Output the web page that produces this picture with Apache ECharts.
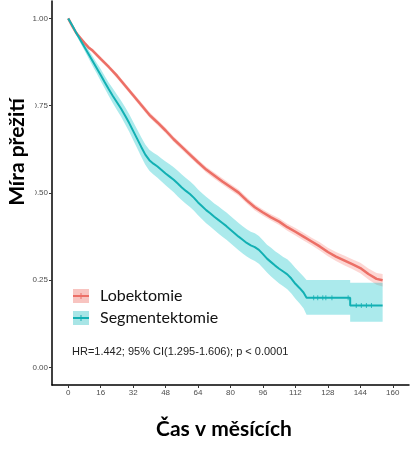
<!DOCTYPE html>
<html><head><meta charset="utf-8">
<script src="https://cdn.jsdelivr.net/npm/echarts@6/dist/echarts.min.js"></script>
<style>html,body{margin:0;padding:0;background:#fff}#c{width:410px;height:450px}</style>
</head><body><div id="c"></div>
<script>
var xTicks = [0,16,32,48,64,80,96,112,128,144,160];
var yTicks = [0,0.25,0.5,0.75,1];
var seriesNames = ['Lobektomie','Segmentektomie'];

var redT  = [0,2,4,6,8,10,12,16,20,24,28,32,36,40,44,48,52,56,60,64,68,72,76,80,84,88,92,96,100,104,108,112,116,120,124,128,132,136,140,144,148,152,155];
var redS  = [1.000,0.978,0.958,0.944,0.930,0.917,0.908,0.884,0.861,0.836,0.808,0.780,0.752,0.724,0.702,0.679,0.654,0.632,0.610,0.588,0.567,0.550,0.533,0.517,0.501,0.479,0.459,0.444,0.430,0.418,0.402,0.389,0.375,0.361,0.347,0.331,0.318,0.307,0.296,0.285,0.268,0.254,0.250];
var redLo = [1.000,0.976,0.955,0.940,0.926,0.912,0.903,0.878,0.855,0.829,0.801,0.773,0.744,0.716,0.694,0.671,0.646,0.624,0.602,0.580,0.559,0.541,0.524,0.508,0.492,0.470,0.450,0.435,0.421,0.408,0.392,0.378,0.364,0.350,0.335,0.319,0.305,0.293,0.282,0.270,0.252,0.237,0.232];
var redHi = [1.000,0.980,0.961,0.948,0.934,0.922,0.913,0.890,0.867,0.843,0.815,0.787,0.760,0.732,0.710,0.687,0.662,0.640,0.618,0.596,0.575,0.559,0.542,0.526,0.510,0.488,0.468,0.453,0.439,0.428,0.412,0.400,0.386,0.372,0.359,0.343,0.331,0.321,0.310,0.300,0.284,0.271,0.268];

var tealT  = [0,2,4,6,8,10,12,14,16,18,20,22,24,26,28,30,32,34,36,38,40,42,44,46,48,50,52,54,56,58,60,62,64,66,68,70,72,74,76,78,80,82,84,86,88,90,92,94,96,98,100,102,104,106,108,110,112,114,116,117.5,139,139,155];
var tealS  = [1.000,0.980,0.958,0.938,0.918,0.898,0.878,0.858,0.838,0.817,0.797,0.778,0.760,0.742,0.722,0.701,0.678,0.655,0.632,0.610,0.594,0.584,0.576,0.566,0.556,0.547,0.538,0.527,0.516,0.506,0.497,0.486,0.473,0.462,0.451,0.442,0.432,0.423,0.414,0.405,0.395,0.385,0.375,0.366,0.357,0.350,0.345,0.337,0.325,0.312,0.302,0.292,0.283,0.275,0.267,0.255,0.240,0.228,0.215,0.200,0.200,0.178,0.178];
var tealLo = [1.000,0.976,0.952,0.930,0.908,0.886,0.864,0.843,0.821,0.799,0.778,0.757,0.738,0.719,0.698,0.676,0.652,0.628,0.604,0.581,0.564,0.553,0.544,0.533,0.522,0.512,0.502,0.490,0.479,0.469,0.460,0.449,0.436,0.425,0.413,0.404,0.394,0.384,0.375,0.366,0.356,0.346,0.336,0.327,0.318,0.311,0.305,0.297,0.285,0.272,0.261,0.251,0.241,0.233,0.224,0.212,0.197,0.184,0.170,0.151,0.151,0.131,0.131];
var tealHi = [1.000,0.984,0.964,0.946,0.928,0.910,0.892,0.873,0.855,0.835,0.816,0.799,0.782,0.765,0.746,0.726,0.704,0.682,0.660,0.639,0.624,0.615,0.608,0.599,0.590,0.582,0.574,0.564,0.553,0.543,0.534,0.523,0.510,0.499,0.489,0.480,0.470,0.462,0.453,0.444,0.434,0.424,0.414,0.405,0.396,0.389,0.385,0.377,0.365,0.352,0.343,0.333,0.325,0.317,0.310,0.299,0.285,0.273,0.261,0.251,0.251,0.243,0.243];

var tealCensT = [121,123,125.5,127,130,138,142,144.5,147,149.5];
var tealCensS = [0.200,0.200,0.200,0.200,0.200,0.200,0.178,0.178,0.178,0.178];

var annotation = 'HR=1.442; 95% CI(1.295-1.606); p < 0.0001';
var xTitle = 'Čas v měsících';
var yTitle = 'Míra přežití';

var RED = '#EC6F66', RED_BAND = 'rgba(248,118,109,0.30)';
var TEAL = '#12B0B3', TEAL_BAND = 'rgba(0,191,196,0.33)';

function zip(a,b){ return a.map(function(v,i){ return [v,b[i]]; }); }

// CI band drawn as a polygon through the chart's own coordinate system
function bandSeries(t, lo, hi, color){
  return {
    type:'custom', silent:true, z:1,
    data:[[t[0], lo[0]]],
    renderItem:function(params, api){
      var pts = [];
      for (var i = 0; i < t.length; i++) pts.push(api.coord([t[i], hi[i]]));
      for (var j = t.length - 1; j >= 0; j--) pts.push(api.coord([t[j], lo[j]]));
      return {type:'polygon', shape:{points:pts}, style:{fill:color}};
    }
  };
}

var chart = echarts.init(document.getElementById('c'), null, {renderer:'canvas'});
var series = [
  bandSeries(redT, redLo, redHi, RED_BAND),
  bandSeries(tealT, tealLo, tealHi, TEAL_BAND),
  {name:seriesNames[0], type:'line', data:zip(redT,redS), symbol:'none', lineStyle:{color:RED, width:2.5}, itemStyle:{color:RED}, z:3},
  {name:seriesNames[1], type:'line', data:zip(tealT,tealS), symbol:'none', lineStyle:{color:TEAL, width:2}, itemStyle:{color:TEAL}, z:4},
  {name:'tealCens', type:'scatter', data:zip(tealCensT,tealCensS), symbol:'rect', symbolSize:[1,5], itemStyle:{color:TEAL}, z:5, silent:true}
];

chart.setOption({
  animation:false,
  backgroundColor:'#fff',
  grid:{left:52, right:1, top:1, bottom:65},
  xAxis:{
    type:'value', min:-8, max:168,
    axisLine:{show:true, onZero:false, lineStyle:{color:'#000', width:1.5}},
    axisTick:{show:true, length:3, customValues:xTicks, lineStyle:{color:'#333'}},
    axisLabel:{customValues:xTicks, fontSize:8, color:'#4d4d4d', margin:4, fontFamily:'Liberation Sans'},
    splitLine:{show:false}
  },
  yAxis:{
    type:'value', min:-0.05, max:1.05,
    axisLine:{show:true, onZero:false, lineStyle:{color:'#000', width:1.5}},
    axisTick:{show:true, length:3, customValues:yTicks, lineStyle:{color:'#333'}},
    axisLabel:{customValues:yTicks, fontSize:8, color:'#4d4d4d', margin:4, fontFamily:'Liberation Sans',
      formatter:function(v){ return v.toFixed(2); }},
    splitLine:{show:false}
  },
  legend:[
    {left:73, top:288, padding:0, orient:'vertical', itemWidth:16, itemHeight:14, itemGap:6,
     data:[{name:seriesNames[0], icon:'rect', itemStyle:{color:'#F8C4C0'}},
           {name:seriesNames[1], icon:'rect', itemStyle:{color:'#A8E5E6'}}],
     textStyle:{fontFamily:'Lato', fontSize:16, color:'#111', padding:[0,0,0,6]}},
    {left:73, top:288, padding:0, orient:'vertical', itemWidth:16, itemHeight:14, itemGap:6,
     data:[{name:seriesNames[0], icon:'path://M0,5h16v2h-16zM7.5,3h1v6h-1z', itemStyle:{color:RED}},
           {name:seriesNames[1], icon:'path://M0,5h16v2h-16zM7.5,3h1v6h-1z', itemStyle:{color:TEAL}}],
     textStyle:{fontFamily:'Lato', fontSize:16, color:'rgba(0,0,0,0)', padding:[0,0,0,6]}}
  ],
  graphic:[
    {type:'rect', left:0, top:88, shape:{width:35, height:128}, style:{fill:'#fff'}, z:100},
    {type:'text', x:17, y:152, rotation:Math.PI/2, z:101,
     style:{text:yTitle, font:'bold 21px Lato', fill:'#000', align:'center', verticalAlign:'middle'}},
    {type:'text', x:224, y:429, z:101,
     style:{text:xTitle, font:'bold 21px Lato', fill:'#000', align:'center', verticalAlign:'middle'}},
    {type:'text', x:72, y:352, z:101,
     style:{text:annotation, font:'11px "Liberation Sans"', fill:'#222', align:'left', verticalAlign:'middle'}}
  ],
  series:series
});
</script></body></html>
